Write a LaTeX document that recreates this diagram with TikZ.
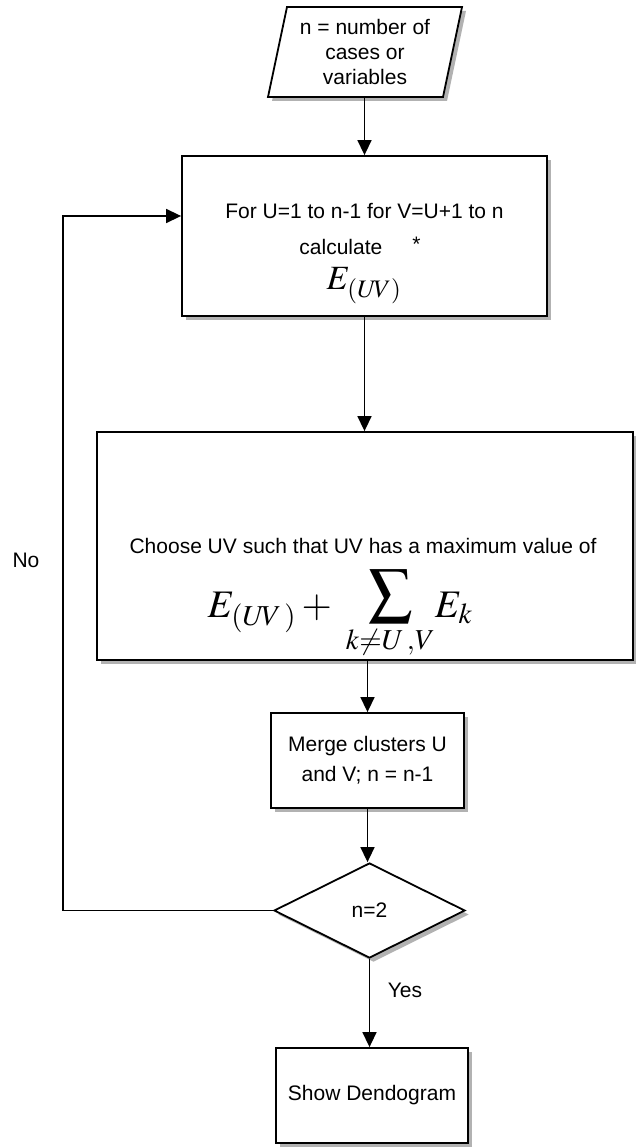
\documentclass[tikz,border=0pt]{standalone}
\usepackage{mathptmx}
\usepackage{fontspec}
\setmainfont{Liberation Sans}
\usetikzlibrary{arrows.meta,calc,shapes.geometric,shadows}
\newcommand{\bigsum}{\mathop{\raisebox{5pt}[0pt][0pt]{\scalebox{1.6}{$\sum$}}}\limits}
\begin{document}
\begin{tikzpicture}[x=1pt,y=-1pt,
  txt/.style={font=\fontsize{21}{25}\selectfont, align=center, inner sep=0pt},
  shp/.style={draw, line width=1.8pt, fill=white, inner sep=0pt,
    drop shadow={shadow xshift=4pt, shadow yshift=-4pt, fill=gray!60, opacity=1}},
  arr/.style={line width=1.5pt, -{Triangle[length=15pt,width=14pt]}},
]
\useasboundingbox (0,0) rectangle (635,1147);
% input parallelogram
\draw[shp] (287,7) -- (462,7) -- (443,97) -- (268,97) -- cycle;
\node[txt, minimum width=194pt, minimum height=90pt] (para) at (365,52) {n = number of\\cases or\\variables};
% box 2
\node[shp, minimum width=365pt, minimum height=160pt] (box2) at (364.5,236) {};
\node[txt, anchor=base] (b2a) at (364.5,219) {For U=1 to n-1 for V=U+1 to n};
\node[txt, anchor=base] (b2b) at (360,255) {calculate\hspace{30pt}\raisebox{3pt}{*}};
\node[inner sep=0pt, anchor=base, font=\fontsize{34}{40}\selectfont] (b2c) at (364,290) {$E_{(U\!V)}$};
% box 3
\node[shp, minimum width=536pt, minimum height=228pt] (box3) at (365,546) {};
\node[txt, anchor=base] (b3a) at (363,553) {Choose UV such that UV has a maximum value of};
\node[inner sep=0pt, anchor=base, font=\fontsize{39}{47}\selectfont] (b3b) at (340,617) {$E_{(U\!V\,)} +\; \bigsum_{k\neq U\,,V} \!E_k$};
% merge
\node[shp, txt, minimum width=193pt, minimum height=95pt, font=\fontsize{21}{30}\selectfont] (merge) at (367.5,760.5) {Merge clusters U\\and V; n = n-1};
% decision
\node[shp, diamond, txt, minimum width=191pt, minimum height=95pt, aspect=2] (dec) at (369.5,910.5) {n=2};
% show
\node[shp, txt, minimum width=192pt, minimum height=95pt] (show) at (372,1095.5) {Show Dendogram};
% labels
\node[txt] (no) at (26,560) {No};
\node[txt] (yes) at (405,990) {Yes};
\coordinate (loopx) at (63,216);
% connectors
\draw[arr] (para.south -| box2.north) -- (box2.north);
\draw[arr] (box2.south) -- (box2.south |- box3.north);
\draw[arr] (box3.south -| merge.north) -- (merge.north);
\draw[arr] (merge.south) -- (merge.south |- dec.north);
\draw[arr] (dec.south) -- (dec.south |- show.north);
\draw[arr] (dec.west) -| (loopx) -- (loopx -| box2.west);
\end{tikzpicture}
\end{document}
